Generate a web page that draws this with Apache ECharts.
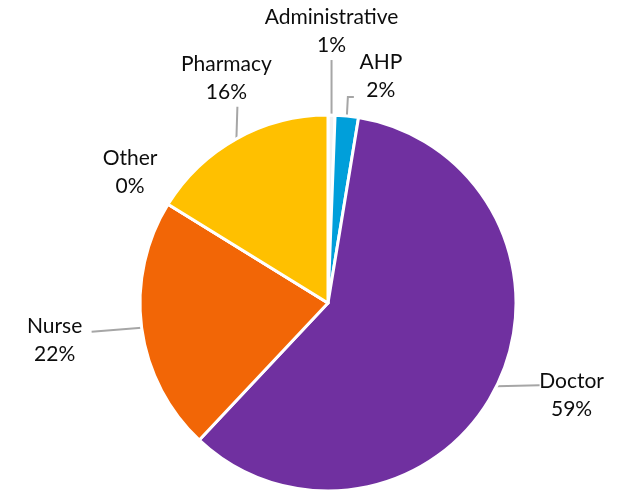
<!DOCTYPE html>
<html>
<head>
<meta charset="utf-8">
<script src="https://cdn.jsdelivr.net/npm/echarts@6/dist/echarts.min.js"></script>
<style>
html,body{margin:0;padding:0;background:#fff;}
#chart{width:633px;height:493px;}
</style>
</head>
<body>
<div id="chart"></div>
<script>
// Data
const categories = ['Administrative', 'AHP', 'Doctor', 'Nurse', 'Other', 'Pharmacy'];
const values = [0.6, 2.0, 59.4, 21.8, 0, 16.2];
const colors = ['#F2F2F2', '#009FDA', '#7030A0', '#F26606', '#A5A5A5', '#FFC000'];

// Layout / style settings
const CX = 328, CY = 303, R = 188;
// label centre offset from the slice's outer mid-point
const labelOffsets = [[0, -84], [34, -40], [75, 9], [-87, 13], [-38, -32], [-10, -61]];
// leader line shape (relative to the slice's outer mid-point); null = no line
const leaderLines = [
  [[0, -55]],
  [[1, -19], [7, -19]],
  [[43, -1]],
  [[-50, 4]],
  null,
  [[1, -32]]
];

const total = values.reduce((a, b) => a + b, 0);
function midPoint(i) {
  let before = 0;
  for (let k = 0; k < i; k++) before += values[k];
  const a = (before + values[i] / 2) / total * Math.PI * 2; // clockwise from top
  return [CX + R * Math.sin(a), CY - R * Math.cos(a)];
}

const chart = echarts.init(document.getElementById('chart'), null, {renderer: 'canvas'});
chart.setOption({
  backgroundColor: '#ffffff',
  animation: false,
  series: [{
    type: 'pie',
    center: [CX, CY],
    radius: R,
    startAngle: 90,
    clockwise: true,
    avoidLabelOverlap: false,
    percentPrecision: 0,
    itemStyle: {borderColor: '#ffffff', borderWidth: 3},
    label: {
      show: true,
      position: 'outside',
      formatter: '{b}\n{d}%',
      fontFamily: 'Lato',
      fontSize: 21,
      lineHeight: 28,
      color: '#0d0d0d',
      align: 'center'
    },
    labelLine: {show: true, length: 10, length2: 10, lineStyle: {color: '#A6A6A6', width: 2}},
    labelLayout: function (params) {
      const i = params.dataIndex;
      const p = midPoint(i);
      const o = labelOffsets[i];
      const res = {x: p[0] + o[0], y: p[1] + o[1], align: 'center', verticalAlign: 'middle'};
      const l = leaderLines[i];
      if (l) {
        res.labelLinePoints = [p].concat(l.map(d => [p[0] + d[0], p[1] + d[1]]));
      } else {
        res.labelLinePoints = [p, p];
      }
      return res;
    },
    data: categories.map((c, i) => ({
      name: c,
      value: values[i],
      itemStyle: {color: colors[i]},
      labelLine: {show: leaderLines[i] !== null}
    }))
  }]
});
</script>
</body>
</html>
